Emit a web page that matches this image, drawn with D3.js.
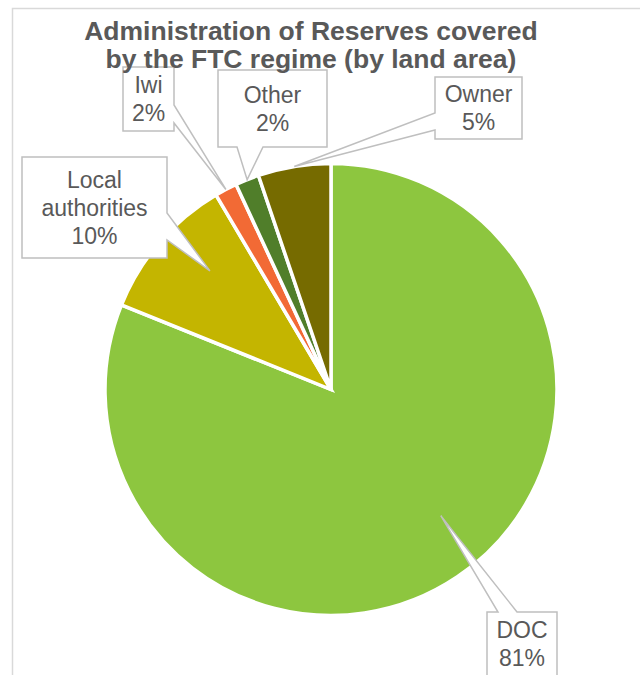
<!DOCTYPE html>
<html>
<head>
<meta charset="utf-8">
<script src="https://cdn.jsdelivr.net/npm/d3@7"></script>
<style>
  html, body { margin: 0; padding: 0; background: #fff; }
  svg { display: block; }
  text { font-family: "Liberation Sans", Arial, sans-serif; fill: #595959; }
</style>
</head>
<body>
<svg id="chart" width="640" height="675"></svg>
<script>
// ---- data ----
const categories = ["DOC", "Local authorities", "Iwi", "Other", "Owner"];
const shares = [81.1, 10.4, 1.6, 1.7, 5.2];
const labelLines = [["DOC", "81%"], ["Local", "authorities", "10%"], ["Iwi", "2%"], ["Other", "2%"], ["Owner", "5%"]];
const titleLines = ["Administration of Reserves covered", "by the FTC regime (by land area)"];

// ---- styles / layout ----
const colors = ["#8DC63F", "#C4B500", "#F26A35", "#507E2A", "#766B00"];
const W = 640, H = 675;
const cx = 331, cy = 389.5, R = 226;

// callout boxes: box rect, pointer side, pointer base (along side), tip spec
const callouts = [
  { x: 487, y: 612, w: 70, h: 64, side: "top", b0: 498, b1: 517, tipFrac: 0.476, tipR: 0.74 },
  { x: 22, y: 157, w: 145, h: 101, side: "right", b0: 213, b1: 240, tipFrac: 0.6, tipR: 0.75 },
  { x: 123, y: 67, w: 51, h: 64, side: "right", b0: 105, b1: 123, tipFrac: 0.5, tipR: 1.0 },
  { x: 218, y: 70, w: 109, h: 77, side: "bottom", b0: 237, b1: 263, tipFrac: 0.5, tipR: 1.0 },
  { x: 435, y: 77, w: 87, h: 62, side: "left", b0: 113, b1: 130, tipFrac: 0.5, tipR: 1.0 }
];

const svg = d3.select("#chart");

// frame
svg.append("rect")
  .attr("x", 12.5).attr("y", 8.5)
  .attr("width", 700).attr("height", 700)
  .attr("fill", "none").attr("stroke", "#D9D9D9").attr("stroke-width", 1.5);

// pie
const pie = d3.pie().sort(null).value(d => d).startAngle(0).endAngle(2 * Math.PI);
const arcs = pie(shares);
const arc = d3.arc().innerRadius(0).outerRadius(R);

const g = svg.append("g").attr("transform", `translate(${cx},${cy})`);
g.selectAll("path.slice")
  .data(arcs)
  .join("path")
  .attr("class", "slice")
  .attr("d", arc)
  .attr("fill", (d, i) => colors[i])
  .attr("stroke", "#fff")
  .attr("stroke-width", 3.5)
  .attr("stroke-linejoin", "miter");

// callouts
function calloutPath(c, tx, ty) {
  const x0 = c.x, y0 = c.y, x1 = c.x + c.w, y1 = c.y + c.h;
  let p;
  if (c.side === "right") {
    p = [[x0, y0], [x1, y0], [x1, c.b0], [tx, ty], [x1, c.b1], [x1, y1], [x0, y1]];
  } else if (c.side === "left") {
    p = [[x0, y0], [x1, y0], [x1, y1], [x0, y1], [x0, c.b1], [tx, ty], [x0, c.b0]];
  } else if (c.side === "bottom") {
    p = [[x0, y0], [x1, y0], [x1, y1], [c.b1, y1], [tx, ty], [c.b0, y1], [x0, y1]];
  } else {
    p = [[x0, y0], [c.b0, y0], [tx, ty], [c.b1, y0], [x1, y0], [x1, y1], [x0, y1]];
  }
  return "M" + p.map(q => q.join(",")).join("L") + "Z";
}

const lh = 28;
arcs.forEach((a, i) => {
  const c = callouts[i];
  const ang = a.startAngle + c.tipFrac * (a.endAngle - a.startAngle);
  const tx = cx + Math.sin(ang) * R * c.tipR;
  const ty = cy - Math.cos(ang) * R * c.tipR;
  svg.append("path")
    .attr("d", calloutPath(c, tx, ty))
    .attr("fill", "#fff")
    .attr("stroke", "#BFBFBF")
    .attr("stroke-width", 1.5)
    .attr("stroke-linejoin", "miter");
  const lines = labelLines[i];
  const pad = (c.h - lines.length * lh) / 2;
  const t = svg.append("text")
    .attr("text-anchor", "middle")
    .style("font-size", "23px");
  lines.forEach((s, j) => {
    t.append("tspan")
      .attr("x", c.x + c.w / 2)
      .attr("y", c.y + pad + lh / 2 + j * lh)
      .attr("dy", "0.35em")
      .text(s);
  });
});

// title (drawn on top)
const title = svg.append("text")
  .attr("text-anchor", "middle")
  .style("font-weight", "bold")
  .style("font-size", "26.5px");
titleLines.forEach((t, i) => {
  title.append("tspan").attr("x", 311).attr("y", 40 + i * 28).text(t);
});
</script>
</body>
</html>
